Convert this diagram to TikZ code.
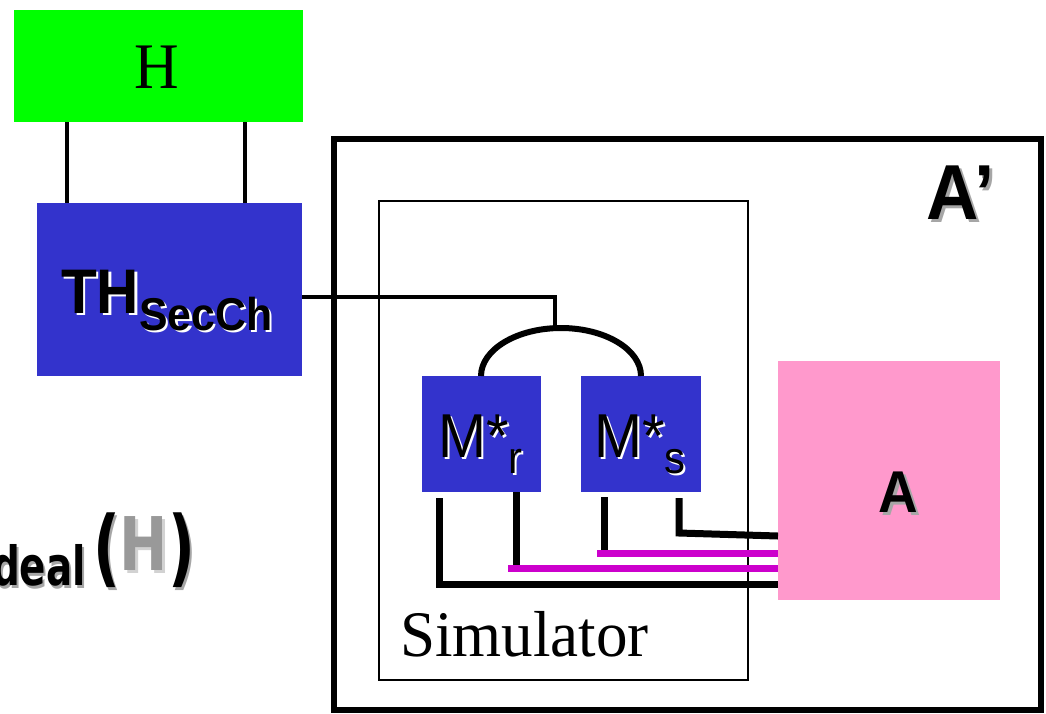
\documentclass[tikz,border=0pt]{standalone}
\usepackage{fontspec}
\usepackage{graphicx}
\setmainfont{Liberation Serif}
\setsansfont{Liberation Sans}
\newfontfamily\comicfont{DejaVu Sans}
\definecolor{tblue}{HTML}{3333CC}
\definecolor{hgreen}{HTML}{00FF00}
\definecolor{apink}{HTML}{FF99CC}
\definecolor{wmag}{HTML}{CC00CC}
\definecolor{hgray}{HTML}{999999}
% offset, shadow colour, text colour, text
\newcommand\shd[4]{\makebox[0pt][l]{\hspace*{#1}\raisebox{-#1}{\color{#2}#4}}{\color{#3}#4}}
\newcommand\sq[1]{\scalebox{0.93}[1]{#1}}
\begin{document}
\begin{tikzpicture}[x=1pt,y=-1pt,
  txt/.style={inner sep=0pt,outer sep=0pt},
  box/.style={inner sep=0pt,outer sep=0pt,anchor=north west},
  bwire/.style={line width=7pt,black},
  mwire/.style={line width=7pt,wmag},
  hline/.style={line width=4.5pt}]
\useasboundingbox (0,0) rectangle (1046,713);
\clip (0,0) rectangle (1046,713);

% outer frame A'
\node[box,draw,line width=6pt,minimum width=707pt,minimum height=571pt] (Ap) at (334,139) {};
% simulator frame
\node[box,draw,line width=1.8pt,minimum width=369pt,minimum height=479pt] (Sim) at (379,201) {};

% H and TH boxes
\node[box,fill=hgreen,minimum width=289pt,minimum height=112pt] (H) at (14,10) {};
\node[box,fill=tblue,minimum width=265pt,minimum height=173pt] (TH) at (37,203) {};
\draw[hline] (H.south -| 67,0) -- (TH.north -| 67,0);
\draw[hline] (H.south -| 245,0) -- (TH.north -| 245,0);

% M boxes
\node[box,fill=tblue,minimum width=119pt,minimum height=116pt] (Mr) at (422,376) {};
\node[box,fill=tblue,minimum width=120pt,minimum height=116pt] (Ms) at (581,376) {};

% connector TH -> fork
\coordinate (j) at (555,297);
\coordinate (jt) at (555,330);
\draw[hline,line join=miter] (TH.east |- j) -- (j) -- (jt);
\draw[line width=6pt] (Mr.north -| 481,0) .. controls (481,349.5) and (517,328) .. (561,328)
   .. controls (605,328) and (641,349.5) .. (Ms.north -| 641,0);

% A box
\node[box,fill=apink,minimum width=222pt,minimum height=239pt] (A) at (778,361) {};

% wires from M boxes to A
\coordinate (w1a) at (439,498); \coordinate (w1b) at (439,584);
\draw[bwire] (w1a) -- (w1b) -- (w1b -| A.west);
\coordinate (m1) at (508,568); \coordinate (w2a) at (516,492); \coordinate (w2b) at (516,565);
\draw[mwire] (m1) -- (m1 -| A.west);
\draw[bwire] (w2a) -- (w2b);
\coordinate (m2) at (597,553); \coordinate (w3a) at (604,497); \coordinate (w3b) at (604,550);
\draw[mwire] (m2) -- (m2 -| A.west);
\draw[bwire] (w3a) -- (w3b);
\coordinate (w4a) at (679,498); \coordinate (w4b) at (679,533); \coordinate (w4c) at (778,536);
\draw[bwire] (w4a) -- (w4b) -- (w4c);

% texts
\node[txt,anchor=base] (Hlab) at (157,88) {\fontsize{65}{70}\selectfont\scalebox{0.95}[1]{H}};
\node[txt,anchor=base west] (THlab) at (61,313)
  {\sffamily\bfseries\fontsize{63}{70}\selectfont\shd{2.5pt}{white}{black}{\sq{TH}\raisebox{-17pt}{\fontsize{46}{50}\selectfont\sq{SecCh}}}};
\node[txt,anchor=base west] (Mrlab) at (438,457)
  {\sffamily\fontsize{62}{70}\selectfont\shd{2pt}{white}{black}{\sq{M*}\raisebox{-16pt}{\fontsize{45}{50}\selectfont\sq{r}}}};
\node[txt,anchor=base west] (Mslab) at (594,457)
  {\sffamily\fontsize{62}{70}\selectfont\shd{2pt}{white}{black}{\sq{M*}\raisebox{-16pt}{\fontsize{45}{50}\selectfont\sq{s}}}};
\node[txt,anchor=base] (Alab) at (898,512)
  {\sffamily\bfseries\fontsize{59}{64}\selectfont\shd{3pt}{gray!70}{black}{\sq{A}}};
\node[txt,anchor=base west] (Aplab) at (926,219)
  {\sffamily\bfseries\fontsize{78}{80}\selectfont\shd{3pt}{gray!70}{black}{\sq{A’}}};
\node[txt,anchor=base west] (Simlab) at (400,656)
  {\fontsize{65}{70}\selectfont\scalebox{0.97}[1]{Simulator}};
\node[txt,anchor=base west] (deal) at (-8,585)
  {\comicfont\bfseries\fontsize{54}{58}\selectfont\scalebox{0.72}[1]{\shd{3pt}{gray!70}{black}{deal}}};
\node[txt,anchor=base west] (paren) at (93,576)
  {\comicfont\bfseries\fontsize{84}{90}\selectfont\scalebox{0.7}[1]{\shd{3pt}{gray!70}{black}{(}}%
   \raisebox{6pt}{\fontsize{74}{80}\selectfont\scalebox{0.78}[1]{\shd{3pt}{gray!35}{hgray}{H}}}%
   \scalebox{0.7}[1]{\shd{3pt}{gray!70}{black}{)}}};
\end{tikzpicture}
\end{document}
